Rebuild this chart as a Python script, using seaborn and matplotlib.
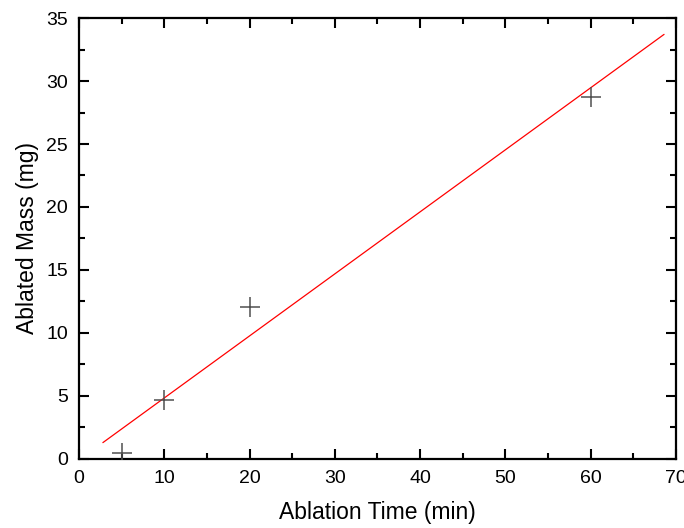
import matplotlib
matplotlib.use('Agg')
import matplotlib.pyplot as plt
import seaborn as sns
from matplotlib.ticker import MultipleLocator

# 数据：烧蚀时间与烧蚀质量
ablation_time = [5, 10, 20, 60]
ablated_mass = [0.5, 4.7, 12.1, 28.7]

# 拟合直线的两个端点
fit_time = [2.8, 68.6]
fit_mass = [1.3, 33.7]

sns.set_style('ticks')
plt.rcParams['font.family'] = ['Liberation Sans', 'DejaVu Sans']

fig = plt.figure(figsize=(6.84, 5.28), dpi=100)
ax = fig.add_axes([0.1155, 0.1307, 0.8728, 0.8352])

sns.lineplot(x=fit_time, y=fit_mass, ax=ax, color='red', linewidth=0.9)
sns.scatterplot(x=ablation_time, y=ablated_mass, ax=ax, marker='+', s=220,
                color='#505050', linewidth=1.1, zorder=3)

ax.set_xlim(0, 70)
ax.set_ylim(0, 35)
ax.xaxis.set_major_locator(MultipleLocator(10))
ax.xaxis.set_minor_locator(MultipleLocator(5))
ax.yaxis.set_major_locator(MultipleLocator(5))
ax.yaxis.set_minor_locator(MultipleLocator(2.5))

ax.tick_params(which='both', direction='in', top=True, right=True, width=1.5,
               labelsize=14, pad=8, colors='black')
ax.tick_params(which='major', length=7)
ax.tick_params(which='minor', length=4)
for sp in ax.spines.values():
    sp.set_linewidth(1.6)
    sp.set_color('black')
    sp.set_visible(True)

ax.set_xlabel('Ablation Time (min)', fontsize=16.5, labelpad=10, color='black')
ax.set_ylabel('Ablated Mass (mg)', fontsize=16.5, labelpad=5, color='black')

fig.savefig('out.png', dpi=100)
plt.close()
